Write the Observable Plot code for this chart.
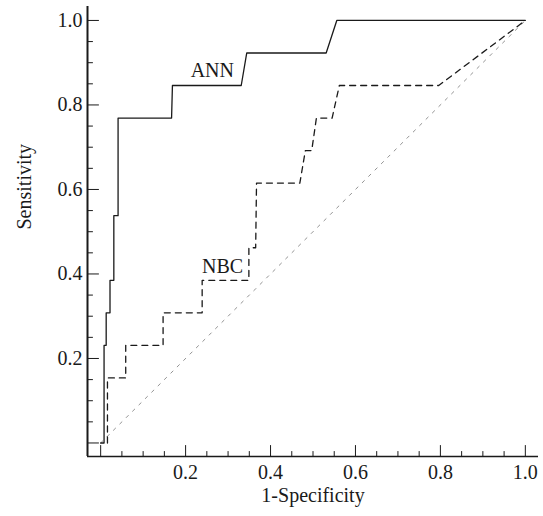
<!DOCTYPE html>
<html><head><meta charset="utf-8">
<script src="https://cdn.jsdelivr.net/npm/d3@7"></script>
<script src="https://cdn.jsdelivr.net/npm/@observablehq/plot@0.6"></script>
<style>body{margin:0;background:#fff}</style>
</head><body><div id="chart"></div>
<script>
// ROC curve points (1-Specificity, Sensitivity)
const annFpr = [0, 0.008, 0.008, 0.013, 0.013, 0.022, 0.022, 0.031, 0.031, 0.041, 0.041, 0.167, 0.169, 0.331, 0.344, 0.531, 0.556, 1.0];
const annTpr = [0, 0, 0.231, 0.231, 0.308, 0.308, 0.385, 0.385, 0.538, 0.538, 0.769, 0.769, 0.846, 0.846, 0.923, 0.923, 1.0, 1.0];
const nbcFpr = [0.016, 0.016, 0.059, 0.059, 0.147, 0.147, 0.239, 0.239, 0.349, 0.349, 0.365, 0.367, 0.469, 0.482, 0.497, 0.508, 0.545, 0.562, 0.796, 1.0];
const nbcTpr = [0, 0.154, 0.154, 0.231, 0.231, 0.308, 0.308, 0.385, 0.385, 0.462, 0.462, 0.615, 0.615, 0.692, 0.692, 0.769, 0.769, 0.846, 0.846, 1.0];
const refFpr = [0, 1];
const refTpr = [0, 1];
const curveNames = ["ANN", "NBC"];
const labelX = [0.263, 0.287];
const labelY = [0.881, 0.417];
const majorTicks = [0, 0.2, 0.4, 0.6, 0.8, 1.0];
const minorTicks = [0.05, 0.1, 0.15, 0.25, 0.3, 0.35, 0.45, 0.5, 0.55, 0.65, 0.7, 0.75, 0.85, 0.9, 0.95];
const tickLabels = [0.2, 0.4, 0.6, 0.8, 1.0];
const xDomain = [-0.031, 1.031];
const yDomain = [-0.032, 1.033];
const xTitle = "1-Specificity";
const yTitle = "Sensitivity";

const ann = annFpr.map((x, i) => ({x, y: annTpr[i]}));
const nbc = nbcFpr.map((x, i) => ({x, y: nbcTpr[i]}));
const ref = refFpr.map((x, i) => ({x, y: refTpr[i]}));
const labels = curveNames.map((name, i) => ({name, x: labelX[i], y: labelY[i]}));

const tickShape = {draw(ctx, l) { ctx.moveTo(0, 0); ctx.lineTo(0, -l); }};
const ink = "#1a1a1a";
const font = "'Liberation Serif', 'Times New Roman', serif";

const chart = Plot.plot({
  width: 543, height: 516,
  marginLeft: 87, marginRight: 5, marginTop: 6, marginBottom: 60,
  x: {domain: xDomain, axis: null},
  y: {domain: yDomain, axis: null},
  style: {fontFamily: font, fontSize: "20px", color: ink, background: "#fff"},
  marks: [
    Plot.line(ref, {x: "x", y: "y", stroke: "#777", strokeWidth: 0.8, strokeDasharray: "3,6"}),
    Plot.line(nbc, {x: "x", y: "y", stroke: ink, strokeWidth: 1.3, strokeDasharray: "6,5"}),
    Plot.line(ann, {x: "x", y: "y", stroke: ink, strokeWidth: 1.3}),
    Plot.text(labels, {x: "x", y: "y", text: "name", fontSize: 20, fill: ink, textAnchor: "middle"}),
    Plot.ruleX([xDomain[0]], {stroke: ink, strokeWidth: 2}),
    Plot.ruleY([yDomain[0]], {stroke: ink, strokeWidth: 1.6}),
    Plot.vector(majorTicks, {x: d => d, frameAnchor: "bottom", length: 11, rotate: 0, anchor: "start", shape: tickShape, stroke: ink, strokeWidth: 1}),
    Plot.vector(minorTicks, {x: d => d, frameAnchor: "bottom", length: 5, rotate: 0, anchor: "start", shape: tickShape, stroke: ink, strokeWidth: 1}),
    Plot.vector(majorTicks, {y: d => d, frameAnchor: "left", length: 11, rotate: 90, anchor: "start", shape: tickShape, stroke: ink, strokeWidth: 1}),
    Plot.vector(minorTicks, {y: d => d, frameAnchor: "left", length: 5, rotate: 90, anchor: "start", shape: tickShape, stroke: ink, strokeWidth: 1}),
    Plot.axisX({ticks: tickLabels, tickSize: 0, tickPadding: 8, tickFormat: d3.format(".1f"), fontSize: 20, label: null}),
    Plot.axisY({ticks: tickLabels, tickSize: 0, tickPadding: 5, tickFormat: d3.format(".1f"), fontSize: 20, label: null}),
    Plot.text([xTitle], {frameAnchor: "bottom", dy: 45, fontSize: 20, fill: ink}),
    Plot.text([yTitle], {frameAnchor: "left", dx: -63, dy: -2, rotate: -90, fontSize: 20, fill: ink})
  ]
});
document.getElementById("chart").appendChild(chart);
</script>
</body></html>
